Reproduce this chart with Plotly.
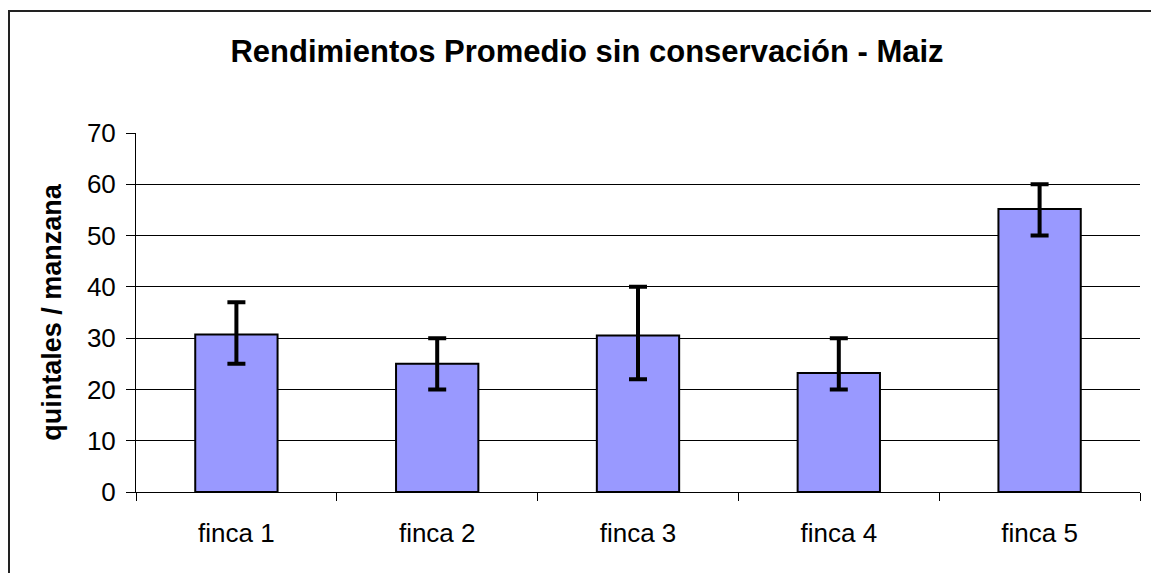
import plotly.graph_objects as go

categories = ["finca 1", "finca 2", "finca 3", "finca 4", "finca 5"]
means = [30.7, 25.0, 30.5, 23.2, 55.2]
upper = [37, 30, 40, 30, 60]
lower = [25, 20, 22, 20, 50]
y_ticks = [0, 10, 20, 30, 40, 50, 60, 70]

err_plus = [u - m for u, m in zip(upper, means)]
err_minus = [m - l for m, l in zip(means, lower)]

W, H = 1151, 573
L, R, T, B = 136, 11, 133, 81
pw, ph = W - L - R, H - T - B

fig = go.Figure(go.Bar(
    x=categories, y=means, width=0.41,
    marker=dict(color="#9999FF", line=dict(color="black", width=2)),
    error_y=dict(type="data", symmetric=False, array=err_plus, arrayminus=err_minus,
                 color="black", thickness=4, width=9),
))

font = "Liberation Sans, Arial, sans-serif"
fig.update_layout(
    width=W, height=H,
    margin=dict(l=L, r=R, t=T, b=B),
    paper_bgcolor="white", plot_bgcolor="white",
    font=dict(family=font, color="black", size=26),
    title=dict(text="<b>Rendimientos Promedio sin conservación - Maiz</b>",
               x=587 / W, xanchor="center", xref="container",
               y=1 - 51 / H, yanchor="middle", yref="container",
               font=dict(size=31, family=font, color="black")),
    showlegend=False,
)
fig.update_xaxes(type="category", tickson="boundaries", ticks="outside", ticklen=8,
                 tickcolor="black", showline=True, linecolor="black", linewidth=1,
                 showgrid=False, tickfont=dict(size=26), ticklabelstandoff=18)
fig.update_yaxes(range=[0, 70], tickvals=y_ticks, ticks="outside", ticklen=9,
                 tickcolor="black", showline=True, linecolor="black", linewidth=1,
                 showgrid=True, gridcolor="black", gridwidth=1, zeroline=False,
                 tickfont=dict(size=26), ticklabelstandoff=5,
                 title=dict(text="<b>quintales / manzana</b>", font=dict(size=27), standoff=17))

x0 = (9 - L) / pw
y0 = (H - B - 11) / ph
fig.add_shape(type="rect", xref="paper", yref="paper",
              x0=x0, x1=1.2, y0=-0.5, y1=y0,
              line=dict(color="#222222", width=2), fillcolor="rgba(0,0,0,0)", layer="above")

fig.write_html("out.html", config={"displayModeBar": False},
               post_script="document.body.style.margin='0';document.body.style.overflow='hidden';")
